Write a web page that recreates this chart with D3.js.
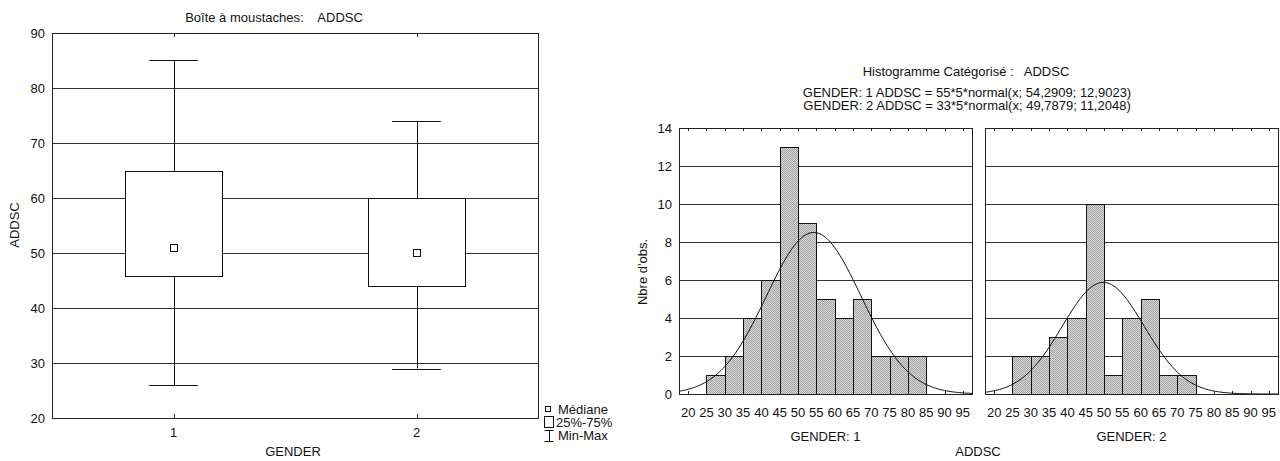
<!DOCTYPE html>
<html>
<head>
<meta charset="utf-8">
<script src="https://cdn.jsdelivr.net/npm/d3@7"></script>
<style>
  body { margin: 0; background: #fff; }
  svg { display: block; font-family: Arial, "Liberation Sans", sans-serif; font-size: 13px; }
  text { white-space: pre; fill: #111; }
</style>
</head>
<body>
<div id="chart"></div>
<script>
// ---- Data: box plot ----
const boxGroups = ["1", "2"];
const boxMin    = [26, 29];
const boxQ1     = [46, 44];
const boxMedian = [51, 50];
const boxQ3     = [65, 60];
const boxMax    = [85, 74];
const boxYTicks = [20, 30, 40, 50, 60, 70, 80, 90];

// ---- Data: categorised histogram ----
const binStarts  = [25, 30, 35, 40, 45, 50, 55, 60, 65, 70, 75, 80];
const countsG1   = [1, 2, 4, 6, 13, 9, 5, 4, 5, 2, 2, 2];
const countsG2   = [2, 2, 3, 4, 10, 1, 4, 5, 1, 1, 0, 0];
const fitN       = [55, 33];
const fitMean    = [54.2909, 49.7879];
const fitSd      = [12.9023, 11.2048];
const histXTicks = [20, 25, 30, 35, 40, 45, 50, 55, 60, 65, 70, 75, 80, 85, 90, 95];
const histYTicks = [0, 2, 4, 6, 8, 10, 12, 14];

(function () {
  const W = 1280, H = 461;
  const svg = d3.select("#chart").append("svg")
      .attr("width", W)
      .attr("height", H);

  // bar fill: fine gray stipple like the original
  const pat = svg.append("defs").append("pattern")
      .attr("id", "stipple")
      .attr("width", 2).attr("height", 2)
      .attr("patternUnits", "userSpaceOnUse");
  pat.append("rect").attr("width", 2).attr("height", 2).attr("fill", "#d6d6d6");
  pat.append("rect").attr("width", 1).attr("height", 1).attr("fill", "#a4a4a4");
  pat.append("rect").attr("x", 1).attr("y", 1).attr("width", 1).attr("height", 1).attr("fill", "#a4a4a4");

  // ================= Box plot =================
  const bx = d3.scaleLinear().domain([0.5, 2.5]).range([52, 538]);
  const by = d3.scaleLinear().domain([20, 90]).range([418, 33]);
  const g1 = svg.append("g");

  // grid
  g1.selectAll(".grid")
    .data(boxYTicks.slice(1, -1))
    .join("line")
      .attr("x1", bx.range()[0]).attr("x2", bx.range()[1])
      .attr("y1", d => by(d) + 0.5).attr("y2", d => by(d) + 0.5)
      .attr("stroke", "#333").attr("stroke-width", 1);

  // y tick labels
  g1.selectAll(".ylab")
    .data(boxYTicks)
    .join("text")
      .attr("x", 45).attr("y", d => by(d))
      .attr("dy", "0.35em")
      .attr("text-anchor", "end")
      .text(d => d);

  const boxData = boxGroups.map((k, i) => ({
    k, x: i + 1, min: boxMin[i], q1: boxQ1[i], med: boxMedian[i], q3: boxQ3[i], max: boxMax[i]
  }));

  const halfBox = (bx(1.2) - bx(1)), halfCap = (bx(1.1) - bx(1));
  const bg = g1.selectAll(".box").data(boxData).join("g");
  // whiskers
  bg.append("line")
      .attr("x1", d => Math.round(bx(d.x)) + 0.5).attr("x2", d => Math.round(bx(d.x)) + 0.5)
      .attr("y1", d => by(d.min)).attr("y2", d => by(d.max))
      .attr("stroke", "#111");
  bg.selectAll(".cap").data(d => [[d.x, d.min], [d.x, d.max]]).join("line")
      .attr("x1", d => bx(d[0]) - halfCap).attr("x2", d => bx(d[0]) + halfCap)
      .attr("y1", d => Math.round(by(d[1])) + 0.5).attr("y2", d => Math.round(by(d[1])) + 0.5)
      .attr("stroke", "#111");
  // box
  bg.append("rect")
      .attr("x", d => Math.round(bx(d.x) - halfBox) + 0.5)
      .attr("y", d => Math.round(by(d.q3)) + 0.5)
      .attr("width", Math.round(2 * halfBox))
      .attr("height", d => Math.round(by(d.q1) - by(d.q3)))
      .attr("fill", "#fff").attr("stroke", "#111");
  // median marker
  bg.append("rect")
      .attr("x", d => Math.round(bx(d.x)) - 3.5)
      .attr("y", d => Math.round(by(d.med)) - 3.5)
      .attr("width", 7).attr("height", 7)
      .attr("fill", "#fff").attr("stroke", "#111");

  // frame + ticks
  g1.append("rect")
      .attr("x", 52.5).attr("y", 33.5)
      .attr("width", 486).attr("height", 385)
      .attr("fill", "none").attr("stroke", "#222");
  g1.selectAll(".xt").data(boxData).join("g").each(function (d) {
    const x = Math.round(bx(d.x)) + 0.5;
    d3.select(this).append("line").attr("x1", x).attr("x2", x).attr("y1", 33).attr("y2", 37).attr("stroke", "#222");
    d3.select(this).append("line").attr("x1", x).attr("x2", x).attr("y1", 414).attr("y2", 418).attr("stroke", "#222");
  });
  g1.selectAll(".xlab").data(boxData).join("text")
      .attr("x", d => bx(d.x)).attr("y", 437)
      .attr("text-anchor", "middle")
      .text(d => d.k);

  g1.append("text").attr("x", 274).attr("y", 21.5).attr("text-anchor", "middle")
      .text("Boîte à moustaches:    ADDSC");
  g1.append("text").attr("x", 293).attr("y", 456).attr("text-anchor", "middle")
      .text("GENDER");
  g1.append("text")
      .attr("transform", "translate(19,225) rotate(-90)")
      .attr("text-anchor", "middle")
      .text("ADDSC");

  // legend
  const lg = g1.append("g");
  lg.append("rect").attr("x", 545.5).attr("y", 406.5).attr("width", 5).attr("height", 5)
      .attr("fill", "#fff").attr("stroke", "#111");
  lg.append("text").attr("x", 558).attr("y", 413.5).text("Médiane");
  lg.append("rect").attr("x", 544.5).attr("y", 416.5).attr("width", 9).attr("height", 11)
      .attr("fill", "#fff").attr("stroke", "#111");
  lg.append("text").attr("x", 556).attr("y", 426.5).text("25%-75%");
  lg.append("path").attr("d", "M544.5,430.5H553.5M549.5,430.5V441.5M544.5,441.5H553.5")
      .attr("fill", "none").attr("stroke", "#111");
  lg.append("text").attr("x", 558).attr("y", 439.5).text("Min-Max");

  // ================= Histograms =================
  const hy = d3.scaleLinear().domain([0, 14]).range([394, 128]);
  const panels = [
    { label: "GENDER: 1", counts: countsG1, i: 0, x0: 679 },
    { label: "GENDER: 2", counts: countsG2, i: 1, x0: 985 }
  ];
  const g2 = svg.append("g");

  panels.forEach(p => {
    const hx = d3.scaleLinear().domain([17.5, 97.5]).range([p.x0, p.x0 + 293]);
    const pg = g2.append("g");

    pg.selectAll(".grid")
      .data(histYTicks.slice(1, -1))
      .join("line")
        .attr("x1", p.x0).attr("x2", p.x0 + 293)
        .attr("y1", d => Math.round(hy(d)) + 0.5).attr("y2", d => Math.round(hy(d)) + 0.5)
        .attr("stroke", "#333");

    pg.selectAll(".bar")
      .data(binStarts.map((b, j) => ({ b, c: p.counts[j] })).filter(d => d.c > 0))
      .join("rect")
        .attr("x", d => Math.round(hx(d.b)) + 0.5)
        .attr("y", d => Math.round(hy(d.c)) + 0.5)
        .attr("width", d => Math.round(hx(d.b + 5)) - Math.round(hx(d.b)))
        .attr("height", d => Math.round(hy(0)) - Math.round(hy(d.c)))
        .attr("fill", "url(#stipple)").attr("stroke", "#111");

    // fitted normal: n*5*normal(x; mean; sd)
    const n = fitN[p.i], m = fitMean[p.i], s = fitSd[p.i];
    const xs = d3.range(17.5, 97.51, 0.5);
    const line = d3.line()
      .x(x => hx(x))
      .y(x => hy(n * 5 * Math.exp(-0.5 * ((x - m) / s) ** 2) / (s * Math.sqrt(2 * Math.PI))));
    pg.append("path").datum(xs).attr("d", line)
      .attr("fill", "none").attr("stroke", "#111").attr("stroke-width", 1);

    pg.append("rect")
      .attr("x", p.x0 + 0.5).attr("y", 128.5).attr("width", 293).attr("height", 266)
      .attr("fill", "none").attr("stroke", "#222");

    pg.selectAll(".tk").data(histXTicks).join("g").each(function (d) {
      const x = Math.round(hx(d)) + 0.5;
      d3.select(this).append("line").attr("x1", x).attr("x2", x).attr("y1", 128).attr("y2", 131).attr("stroke", "#222");
      d3.select(this).append("line").attr("x1", x).attr("x2", x).attr("y1", 391).attr("y2", 394).attr("stroke", "#222");
    });
    pg.selectAll(".xlab").data(histXTicks).join("text")
      .attr("x", d => hx(d)).attr("y", 416.5)
      .attr("text-anchor", "middle")
      .text(d => d);
    pg.append("text").attr("x", p.x0 + 146.5).attr("y", 440.5).attr("text-anchor", "middle")
      .text(p.label);
  });

  g2.selectAll(".ylab")
    .data(histYTicks)
    .join("text")
      .attr("x", 672).attr("y", d => hy(d))
      .attr("dy", "0.35em")
      .attr("text-anchor", "end")
      .text(d => d);

  g2.append("text")
      .attr("transform", "translate(647,272) rotate(-90)")
      .attr("text-anchor", "middle")
      .text("Nbre d'obs.");
  g2.append("text").attr("x", 978).attr("y", 456).attr("text-anchor", "middle").text("ADDSC");

  g2.append("text").attr("x", 966).attr("y", 76).attr("text-anchor", "middle")
      .text("Histogramme Catégorisé :   ADDSC");
  g2.append("text").attr("x", 967).attr("y", 97).attr("text-anchor", "middle")
      .text("GENDER: 1 ADDSC = 55*5*normal(x; 54,2909; 12,9023)");
  g2.append("text").attr("x", 967).attr("y", 110).attr("text-anchor", "middle")
      .text("GENDER: 2 ADDSC = 33*5*normal(x; 49,7879; 11,2048)");
})();
</script>
</body>
</html>
